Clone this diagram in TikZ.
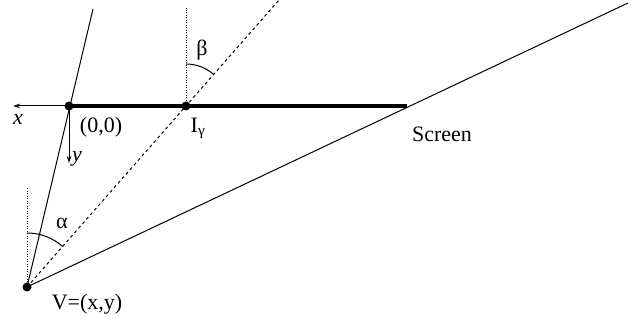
\documentclass[tikz,border=0pt]{standalone}
\usepackage{fontspec}
\setmainfont{Liberation Serif}
\newfontfamily\timesfont{Liberation Serif}
\usetikzlibrary{arrows.meta}
\begin{document}
\begin{tikzpicture}[x=1pt,y=-1pt,
  thinline/.style={line width=1pt,black},
  screenline/.style={line width=3.5pt,black},
  dottedline/.style={line width=0.8pt,dash pattern=on 1pt off 1.5pt},
  dashedline/.style={line width=1pt,dash pattern=on 3pt off 3pt},
  axisarrow/.style={line width=1pt,-{Stealth[length=7pt,width=4.5pt]}},
  dot/.style={circle,fill=black,inner sep=0pt,minimum size=9pt},
  lbl/.style={font=\timesfont\fontsize{22}{24}\selectfont,inner sep=0pt}]
\useasboundingbox (0,0) rectangle (639,320);
% points
\node[dot] (O) at (69,106) {};
\node[dot] (I) at (186,106) {};
\node[dot] (V) at (27,287) {};
\coordinate (E) at (407,106);
\coordinate (Xend) at (13,106);
\coordinate (Yend) at (69,163);
\coordinate (Ltop) at (93,9);
\coordinate (Dtop) at (279,0);
\coordinate (Stop) at (628,3);
\coordinate (Vvert) at (27,187);
\coordinate (Ivert) at (186,8);
% lines
\draw[screenline] (O.center) -- (E);
\draw[axisarrow] (O.center) -- (Xend);
\draw[axisarrow] (O.center) -- (Yend);
\draw[thinline] (V.center) -- (Ltop);
\draw[thinline] (V.center) -- (Stop);
\draw[dashedline] (V.center) -- (Dtop);
\draw[dottedline] (V.center) -- (Vvert);
\draw[dottedline] (I.center) -- (Ivert);
% arcs
\draw[thinline] (V.center) ++(0,-54) arc[start angle=-90,end angle=-48.7,radius=54];
\draw[thinline] (I.center) ++(0,-42) arc[start angle=-90,end angle=-48.7,radius=42];
% labels
\node[lbl] (lx) at (18,119) {\textit{x}};
\node[lbl] (ly) at (77,159) {\textit{y}};
\node[lbl] (l00) at (101,127) {(0,0)};
\node[lbl] (lI) at (198,128) {I\textsubscript{γ}};
\node[lbl] (lscr) at (442,134) {Screen};
\node[lbl] (lV) at (87,304) {V=(x,y)};
\node[lbl] (la) at (62,223) {α};
\node[lbl] (lb) at (202,50) {β};
\end{tikzpicture}
\end{document}
